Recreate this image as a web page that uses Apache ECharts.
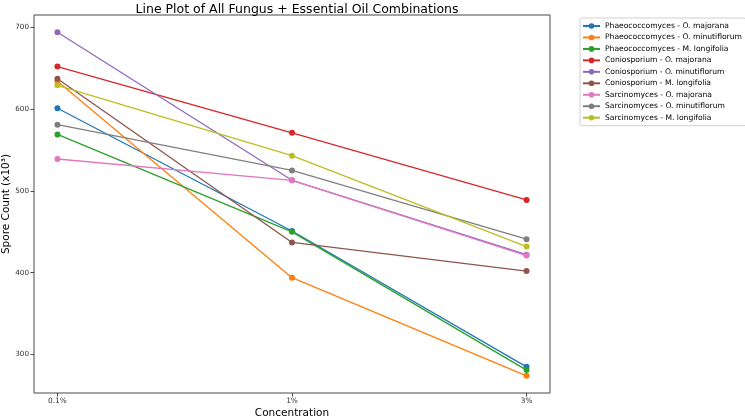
<!DOCTYPE html>
<html><head><meta charset="utf-8">
<script src="https://cdn.jsdelivr.net/npm/echarts@6/dist/echarts.min.js"></script>
<style>html,body{margin:0;padding:0;background:#fff}#c{width:745px;height:419px}</style>
</head><body><div id="c"></div>
<script>
const concentrations = ['0.1%', '1%', '3%'];
const seriesNames = [
  'Phaeococcomyces - O. majorana',
  'Phaeococcomyces - O. minutiflorum',
  'Phaeococcomyces - M. longifolia',
  'Coniosporium - O. majorana',
  'Coniosporium - O. minutiflorum',
  'Coniosporium - M. longifolia',
  'Sarcinomyces - O. majorana',
  'Sarcinomyces - O. minutiflorum',
  'Sarcinomyces - M. longifolia'
];
const phaeoMajorana = [601, 451, 285];
const phaeoMinutiflorum = [634, 394, 274];
const phaeoLongifolia = [569, 450, 281];
const conioMajorana = [652, 571, 489];
const conioMinutiflorum = [694, 513, 422];
const conioLongifolia = [637, 437, 402];
const sarcMajorana = [539, 513, 421];
const sarcMinutiflorum = [581, 525, 441];
const sarcLongifolia = [629, 543, 432];
const yTicks = [300, 400, 500, 600, 700];
const colors = ['#1f77b4','#ff7f0e','#2ca02c','#d62728','#9467bd','#8c564b','#e377c2','#7f7f7f','#bcbd22'];
const allValues = [phaeoMajorana, phaeoMinutiflorum, phaeoLongifolia, conioMajorana, conioMinutiflorum, conioLongifolia, sarcMajorana, sarcMinutiflorum, sarcLongifolia];

const font = 'DejaVu Sans';
const series = seriesNames.map((name, i) => ({
  name: name,
  type: 'line',
  data: allValues[i].map((v, j) => [j, v]),
  symbol: 'circle',
  symbolSize: 6,
  lineStyle: {width: 1.3, color: colors[i]},
  itemStyle: {color: colors[i]},
  emphasis: {disabled: true},
  animation: false
}));

const chart = echarts.init(document.getElementById('c'));
chart.setOption({
  animation: false,
  title: {
    text: 'Line Plot of All Fungus + Essential Oil Combinations',
    left: 292, top: -2, textAlign: 'center',
    textStyle: {fontFamily: font, fontSize: 12.5, fontWeight: 'normal', color: '#000'}
  },
  legend: {
    orient: 'vertical',
    left: 580, top: 18,
    padding: [3, 4, 3, 2],
    borderColor: '#d0d0d0', borderWidth: 1, borderRadius: 2,
    itemWidth: 17, itemHeight: 7, itemGap: 1.46,
    textStyle: {fontFamily: font, fontSize: 7.6, color: '#000', lineHeight: 10},
    data: seriesNames
  },
  grid: {left: 34, top: 15, width: 516, height: 378, show: true, borderColor: '#333', borderWidth: 0.9, containLabel: false, outerBoundsMode: 'none'},
  xAxis: {
    type: 'value', min: -0.1, max: 2.1,
    name: 'Concentration', nameLocation: 'middle', nameGap: 15, nameMoveOverlap: false,
    nameTextStyle: {fontFamily: font, fontSize: 10.5, color: '#000'},
    axisLine: {show: false, onZero: false},
    splitLine: {show: false},
    axisTick: {show: true, length: 3.5, lineStyle: {color: '#333', width: 0.9}, customValues: [0, 1, 2]},
    axisLabel: {customValues: [0, 1, 2], formatter: v => concentrations[Math.round(v)], fontFamily: font, fontSize: 7.4, color: '#333', margin: 5}
  },
  yAxis: {
    type: 'value', min: 253, max: 715,
    name: 'Spore Count (x10³)', nameLocation: 'middle', nameGap: 22, nameRotate: 90, nameMoveOverlap: false,
    nameTextStyle: {fontFamily: font, fontSize: 10.5, color: '#000'},
    axisLine: {show: false, onZero: false},
    splitLine: {show: false},
    axisTick: {show: true, length: 3.5, lineStyle: {color: '#333', width: 0.9}, customValues: yTicks},
    axisLabel: {customValues: yTicks, fontFamily: font, fontSize: 7.2, color: '#333', margin: 5}
  },
  series: series
});
</script></body></html>
